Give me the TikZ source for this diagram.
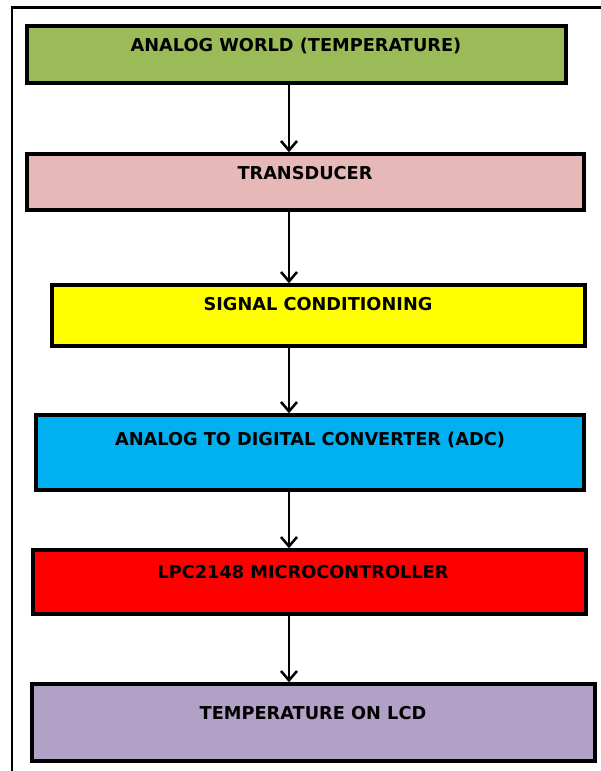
\documentclass[tikz,border=0pt]{standalone}
\usepackage{fontspec}
\setmainfont{DejaVu Sans}
\usetikzlibrary{arrows.meta}
\definecolor{cgreen}{HTML}{9BBB59}
\definecolor{cpink}{HTML}{E6B9B8}
\definecolor{cyellow}{HTML}{FFFF00}
\definecolor{cblue}{HTML}{00B0F0}
\definecolor{cred}{HTML}{FF0000}
\definecolor{cpurple}{HTML}{B2A1C7}
\tikzset{
  box/.style={draw=black, line width=2.6pt, rectangle, inner sep=0pt},
  lbl/.style={inner sep=0pt, font=\fontsize{13.3}{15}\selectfont\bfseries},
  arr/.style={line width=1.9pt, -{Straight Barb[length=7pt,width=12pt,line width=1.9pt]}},
  frame/.style={draw=black, line width=1.7pt}
}
\begin{document}
\begin{tikzpicture}[x=0.75pt,y=-0.75pt]
\useasboundingbox (0,0) rectangle (600,771);
\fill[white] (0,0) rectangle (600,771);
\draw[frame] (12,790) -- (12,7.5) -- (620,7.5);
\coordinate (ax) at (289,0);
\node[box, fill=cgreen, minimum width=539*0.75pt, minimum height=57*0.75pt] (b1) at (296.5,54.5) {};
\node[box, fill=cpink, minimum width=557*0.75pt, minimum height=56*0.75pt] (b2) at (305.5,182) {};
\node[box, fill=cyellow, minimum width=533*0.75pt, minimum height=61*0.75pt] (b3) at (318.5,315.5) {};
\node[box, fill=cblue, minimum width=548*0.75pt, minimum height=75*0.75pt] (b4) at (310,452.5) {};
\node[box, fill=cred, minimum width=553*0.75pt, minimum height=64*0.75pt] (b5) at (309.5,582) {};
\node[box, fill=cpurple, minimum width=563*0.75pt, minimum height=77*0.75pt] (b6) at (313.5,722.5) {};
\node[lbl] (t1) at (296,46) {ANALOG WORLD (TEMPERATURE)};
\node[lbl] (t2) at (305,173) {TRANSDUCER};
\node[lbl] (t3) at (318,304) {SIGNAL CONDITIONING};
\node[lbl] (t4) at (310,440) {ANALOG TO DIGITAL CONVERTER (ADC)};
\node[lbl] (t5) at (303,572) {LPC2148 MICROCONTROLLER};
\node[lbl] (t6) at (313,713) {TEMPERATURE ON LCD};
\draw[arr] (b1.south -| ax) -- (b2.north -| ax);
\draw[arr] (b2.south -| ax) -- (b3.north -| ax);
\draw[arr] (b3.south -| ax) -- (b4.north -| ax);
\draw[arr] (b4.south -| ax) -- (b5.north -| ax);
\draw[arr] (b5.south -| ax) -- (b6.north -| ax);
\end{tikzpicture}
\end{document}
